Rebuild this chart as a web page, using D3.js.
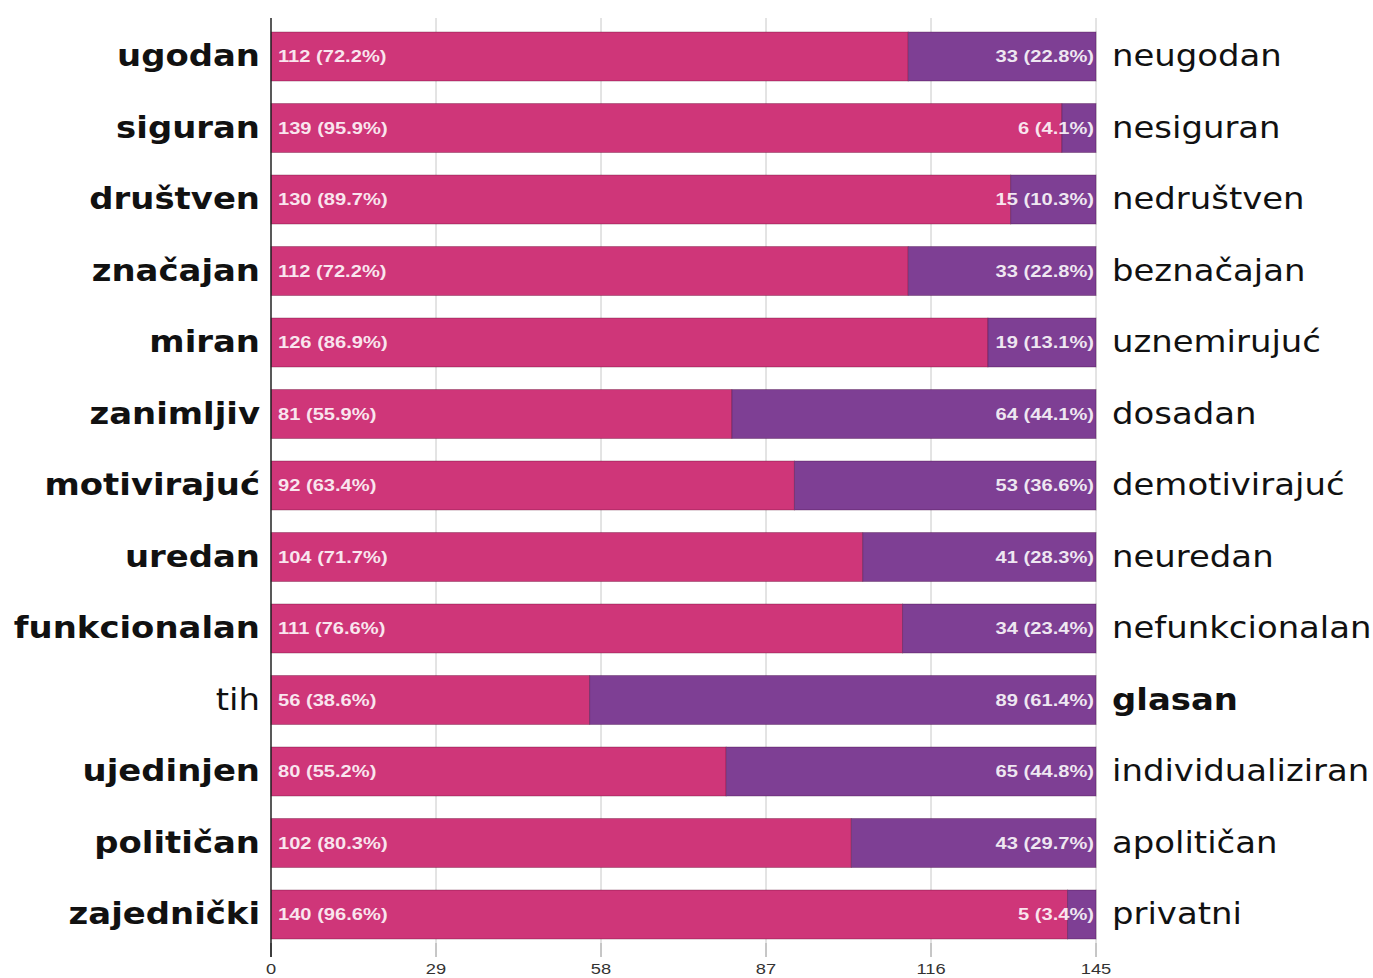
<!DOCTYPE html>
<html>
<head>
<meta charset="utf-8">
<script src="https://cdn.jsdelivr.net/npm/d3@7"></script>
<style>
  body { margin: 0; background: #fff; }
  svg { display: block; }
</style>
</head>
<body>
<svg id="chart" width="1373" height="978"></svg>
<script>
// data
const leftLabels = ['ugodan', 'siguran', 'društven', 'značajan', 'miran', 'zanimljiv', 'motivirajuć',
  'uredan', 'funkcionalan', 'tih', 'ujedinjen', 'političan', 'zajednički'];
const rightLabels = ['neugodan', 'nesiguran', 'nedruštven', 'beznačajan', 'uznemirujuć', 'dosadan', 'demotivirajuć',
  'neuredan', 'nefunkcionalan', 'glasan', 'individualiziran', 'apolitičan', 'privatni'];
const leftValues = [112, 139, 130, 112, 126, 81, 92, 104, 111, 56, 80, 102, 140];
const rightValues = [33, 6, 15, 33, 19, 64, 53, 41, 34, 89, 65, 43, 5];
const leftPct = ['72.2', '95.9', '89.7', '72.2', '86.9', '55.9', '63.4', '71.7', '76.6', '38.6', '55.2', '80.3', '96.6'];
const rightPct = ['22.8', '4.1', '10.3', '22.8', '13.1', '44.1', '36.6', '28.3', '23.4', '61.4', '44.8', '29.7', '3.4'];
const tickValues = [0, 29, 58, 87, 116, 145];

const pink = '#cf3679';
const purple = '#7e3f94';
const smallStretch = 1.22;  // the original looks horizontally stretched
const labelStretch = 1.13;

const svg = d3.select('#chart');
const x = d3.scaleLinear().domain([0, 145]).range([271, 1096]);
const y = d3.scaleBand().domain(d3.range(leftLabels.length)).range([9.5, 961.5]).padding(0.315);

const gridTop = 18, gridBottom = 957;

// grid lines
svg.append('g').selectAll('line')
  .data(tickValues.slice(1))
  .join('line')
  .attr('x1', d => x(d)).attr('x2', d => x(d))
  .attr('y1', gridTop).attr('y2', gridBottom)
  .attr('stroke', '#c8c8c8').attr('stroke-width', 1);

// bottom ticks + labels
const axis = svg.append('g').attr('transform', `translate(0,${gridBottom})`);
axis.selectAll('text')
  .data(tickValues)
  .join('text')
  .attr('transform', d => `translate(${x(d)},17) scale(${smallStretch},1)`)
  .attr('text-anchor', 'middle')
  .attr('font-family', 'Liberation Sans, Arial, sans-serif')
  .attr('font-size', 15)
  .attr('fill', '#333')
  .text(d => d);

const rows = svg.append('g').selectAll('g')
  .data(leftLabels.map((l, i) => i))
  .join('g');

// left (pink) segment
rows.append('rect')
  .attr('x', x(0))
  .attr('y', i => y(i))
  .attr('width', i => x(leftValues[i]) - x(0))
  .attr('height', y.bandwidth())
  .attr('fill', pink)
  .attr('stroke', 'rgba(90,0,40,0.35)').attr('stroke-width', 1);

// right (purple) segment
rows.append('rect')
  .attr('x', i => x(leftValues[i]))
  .attr('y', i => y(i))
  .attr('width', i => x(leftValues[i] + rightValues[i]) - x(leftValues[i]))
  .attr('height', y.bandwidth())
  .attr('fill', purple)
  .attr('stroke', 'rgba(60,0,60,0.35)').attr('stroke-width', 1);

// value labels inside bars
rows.append('text')
  .attr('transform', i => `translate(${x(0) + 7},${y(i) + y.bandwidth() / 2}) scale(${smallStretch},1)`)
  .attr('dy', '0.36em')
  .attr('font-family', 'Liberation Sans, Arial, sans-serif')
  .attr('font-size', 16.5)
  .attr('font-weight', 'bold')
  .attr('fill', 'rgba(255,255,255,0.88)')
  .text(i => `${leftValues[i]} (${leftPct[i]}%)`);

rows.append('text')
  .attr('transform', i => `translate(${x(145) - 2},${y(i) + y.bandwidth() / 2}) scale(${smallStretch},1)`)
  .attr('dy', '0.36em')
  .attr('text-anchor', 'end')
  .attr('font-family', 'Liberation Sans, Arial, sans-serif')
  .attr('font-size', 16.5)
  .attr('font-weight', 'bold')
  .attr('fill', 'rgba(255,255,255,0.88)')
  .text(i => `${rightValues[i]} (${rightPct[i]}%)`);

// category labels, majority side in bold
rows.append('text')
  .attr('transform', i => `translate(260,${y(i) + y.bandwidth() / 2}) scale(${labelStretch},1)`)
  .attr('dy', '0.33em')
  .attr('text-anchor', 'end')
  .attr('font-family', 'DejaVu Sans, Verdana, sans-serif')
  .attr('font-size', 30)
  .attr('font-weight', i => leftValues[i] > rightValues[i] ? 'bold' : 'normal')
  .attr('fill', '#111')
  .text(i => leftLabels[i]);

rows.append('text')
  .attr('transform', i => `translate(1112,${y(i) + y.bandwidth() / 2}) scale(${labelStretch},1)`)
  .attr('dy', '0.33em')
  .attr('font-family', 'DejaVu Sans, Verdana, sans-serif')
  .attr('font-size', 30)
  .attr('font-weight', i => rightValues[i] > leftValues[i] ? 'bold' : 'normal')
  .attr('fill', '#111')
  .text(i => rightLabels[i]);

// tick marks below the bars
axis.selectAll('line')
  .data(tickValues)
  .join('line')
  .attr('x1', d => x(d)).attr('x2', d => x(d))
  .attr('y1', -14).attr('y2', 0)
  .attr('stroke', d => d === 0 ? '#222' : '#aaa');

// left axis line
svg.append('line')
  .attr('x1', x(0)).attr('x2', x(0))
  .attr('y1', gridTop).attr('y2', gridBottom)
  .attr('stroke', '#222').attr('stroke-width', 1.5);
</script>
</body>
</html>
